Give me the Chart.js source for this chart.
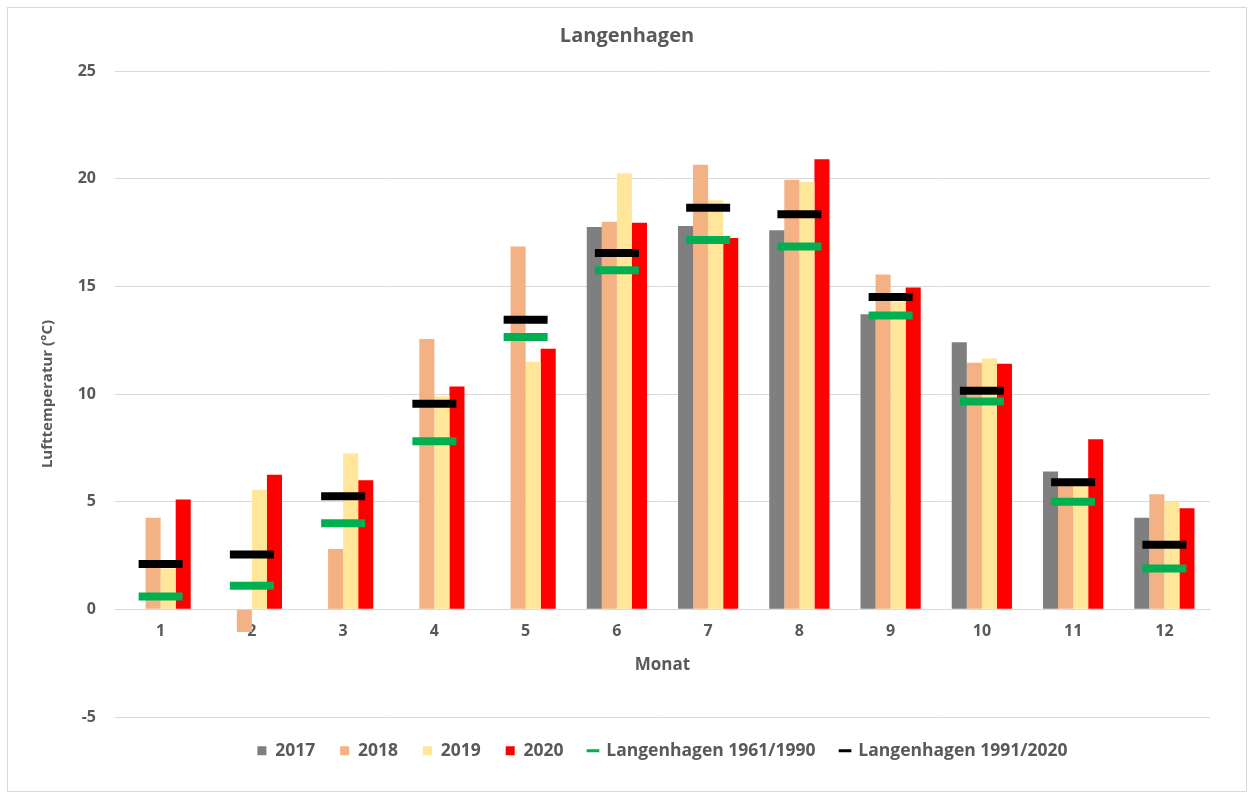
<!DOCTYPE html>
<html>
<head>
<meta charset="utf-8">
<script src="https://cdn.jsdelivr.net/npm/chart.js@4/dist/chart.umd.min.js"></script>
<style>
  body { margin: 0; background: #fff; }
  #frame {
    position: absolute; left: 7px; top: 7px;
    width: 1238px; height: 783px;
    border: 1px solid #d9d9d9;
  }
</style>
</head>
<body>
<div id="frame"><canvas id="tempChart" width="1238" height="783"></canvas></div>
<script>
// Monatsmittel der Lufttemperatur, Station Langenhagen
const monate = ['1', '2', '3', '4', '5', '6', '7', '8', '9', '10', '11', '12'];
const werte2017 = [null, null, null, null, null, 17.75, 17.8, 17.6, 13.7, 12.4, 6.4, 4.25];
const werte2018 = [4.25, -1.05, 2.8, 12.55, 16.85, 18.0, 20.65, 19.95, 15.55, 11.45, 5.8, 5.35];
const werte2019 = [1.9, 5.55, 7.25, 9.9, 11.5, 20.25, 19.0, 19.85, 14.3, 11.65, 5.75, 5.0];
const werte2020 = [5.1, 6.25, 6.0, 10.35, 12.1, 17.95, 17.25, 20.9, 14.95, 11.4, 7.9, 4.7];
const mittel6190 = [0.6, 1.1, 4.0, 7.8, 12.65, 15.75, 17.15, 16.85, 13.65, 9.65, 5.0, 1.9];
const mittel9120 = [2.1, 2.55, 5.25, 9.55, 13.45, 16.55, 18.65, 18.35, 14.5, 10.15, 5.9, 3.0];
const yTicks = [-5, 0, 5, 10, 15, 20, 25];

const grau = '#595959';
const schrift = '"Open Sans", "DejaVu Sans", sans-serif';

function balken(label, data, farbe) {
    return {
        label: label,
        data: data,
        backgroundColor: farbe,
        borderWidth: 0,
        barPercentage: 1,
        categoryPercentage: 0.66,
        order: 2
    };
}

function strich(label, data, farbe, order) {
    return {
        type: 'line',
        label: label,
        data: data,
        showLine: false,
        borderColor: farbe,
        backgroundColor: farbe,
        pointStyle: 'line',
        pointRadius: 22,
        pointHoverRadius: 22,
        pointBorderWidth: 8,
        pointHoverBorderWidth: 8,
        pointBorderColor: farbe,
        order: order
    };
}

function initializeTempChart() {
    const ctx = document.getElementById('tempChart');

    new Chart(ctx, {
        type: 'bar',
        data: {
            labels: monate,
            datasets: [
                balken('2017', werte2017, '#7f7f7f'),
                balken('2018', werte2018, '#f4b183'),
                balken('2019', werte2019, '#ffe699'),
                balken('2020', werte2020, '#ff0000'),
                strich('Langenhagen 1961/1990', mittel6190, '#00b050', 1),
                strich('Langenhagen 1991/2020', mittel9120, '#000000', 0)
            ]
        },
        options: {
            responsive: false,
            animation: false,
            layout: { padding: { left: 0, right: 0, top: 5, bottom: 21.5 } },
            plugins: {
                title: {
                    display: true,
                    text: 'Langenhagen',
                    color: grau,
                    font: { family: schrift, size: 20, weight: 'bold' },
                    padding: { top: 11, bottom: 23 }
                },
                legend: {
                    position: 'bottom',
                    fullSize: false,
                    labels: {
                        usePointStyle: true,
                        boxWidth: 9,
                        boxHeight: 9,
                        padding: 25,
                        color: grau,
                        font: { family: schrift, size: 17.5, weight: 'bold' },
                        generateLabels: chart => chart.data.datasets.map((ds, i) => ({
                            text: ds.label,
                            datasetIndex: i,
                            fillStyle: ds.type === 'line' ? ds.borderColor : ds.backgroundColor,
                            strokeStyle: ds.type === 'line' ? ds.borderColor : ds.backgroundColor,
                            lineWidth: ds.type === 'line' ? 3 : 0,
                            pointStyle: ds.type === 'line' ? 'line' : 'rect',
                            fontColor: grau,
                            hidden: false
                        }))
                    }
                },
                tooltip: { enabled: false }
            },
            scales: {
                x: {
                    position: { y: 0 },
                    grid: { display: false, drawTicks: false },
                    border: { display: true, color: '#d9d9d9', width: 1 },
                    ticks: {
                        color: grau,
                        padding: 13,
                        font: { family: schrift, size: 16, weight: 'bold' }
                    },
                    title: {
                        display: true,
                        text: 'Monat',
                        color: grau,
                        font: { family: schrift, size: 17, weight: 'bold' },
                        padding: { top: 0, bottom: 0 }
                    }
                },
                y: {
                    min: -5,
                    max: 25,
                    afterBuildTicks: scale => { scale.ticks = yTicks.map(v => ({ value: v })); },
                    afterFit: scale => { scale.width = 107; },
                    grid: { color: '#d9d9d9', drawTicks: false },
                    border: { display: false },
                    ticks: {
                        color: grau,
                        padding: 19,
                        font: { family: schrift, size: 16, weight: 'bold' }
                    },
                    title: {
                        display: true,
                        text: 'Lufttemperatur (°C)',
                        color: grau,
                        font: { family: schrift, size: 15, weight: 'bold' },
                        padding: { top: 31, bottom: 0 }
                    }
                },
                // leerer Platz rechts neben der Zeichenfläche
                yRand: {
                    position: 'right',
                    min: -5,
                    max: 25,
                    grid: { display: false, drawTicks: false },
                    border: { display: false },
                    ticks: { display: false },
                    afterFit: scale => { scale.width = 36; }
                }
            }
        }
    });
}

document.addEventListener('DOMContentLoaded', () => {
    initializeTempChart();
});
</script>
</body>
</html>
